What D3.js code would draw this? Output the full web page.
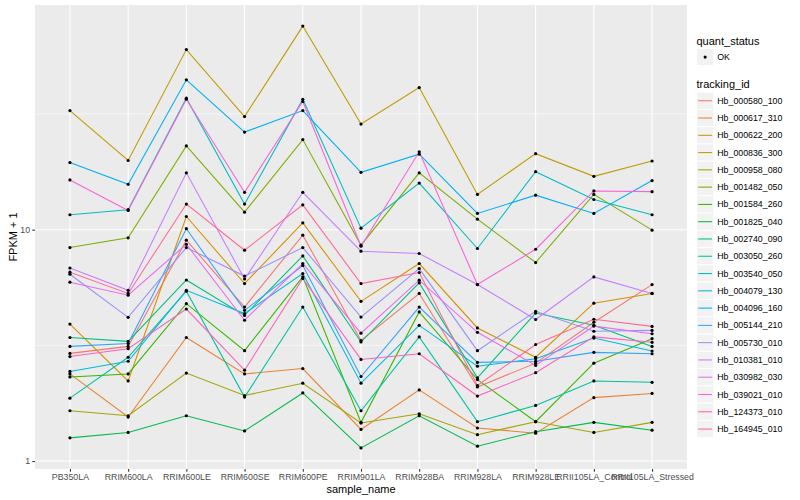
<!DOCTYPE html>
<html>
<head>
<meta charset="utf-8">
<script src="https://cdn.jsdelivr.net/npm/d3@7"></script>
<style>
  body { margin: 0; background: #fff; }
  svg { display: block; }
  text { font-family: "Liberation Sans", Arial, sans-serif; }
</style>
</head>
<body>
<svg id="chart" width="800" height="500"></svg>
<script>
var samples = ['PB350LA', 'RRIM600LA', 'RRIM600LE', 'RRIM600SE', 'RRIM600PE', 'RRIM901LA',
  'RRIM928BA', 'RRIM928LA', 'RRIM928LE', 'RRII105LA_Control', 'RRII105LA_Stressed'];

// FPKM + 1 per sample, one array per gene
var Hb_000580_100 = [2.92, 3.13, 9.01, 4.63, 9.47, 3.32, 5.30, 2.09, 2.65, 3.98, 5.79];
var Hb_000617_310 = [2.38, 1.55, 3.42, 2.38, 2.51, 1.37, 2.03, 1.39, 1.32, 1.88, 1.96];
var Hb_000622_200 = [3.91, 2.22, 11.4, 5.85, 10.7, 4.90, 7.14, 3.76, 2.81, 4.81, 5.30];
var Hb_000836_300 = [32.7, 19.9, 60.0, 30.8, 75.8, 28.6, 41.1, 14.2, 21.3, 17.0, 19.8];
var Hb_000958_080 = [1.65, 1.57, 2.40, 1.92, 2.17, 1.46, 1.60, 1.30, 1.48, 1.33, 1.47];
var Hb_001482_050 = [8.37, 9.22, 23.0, 11.9, 24.5, 8.57, 17.6, 11.1, 7.21, 14.2, 9.95];
var Hb_001584_260 = [2.31, 2.38, 4.79, 3.00, 6.25, 1.47, 4.41, 2.25, 1.48, 2.65, 3.38];
var Hb_001825_040 = [1.26, 1.33, 1.57, 1.35, 1.97, 1.14, 1.57, 1.16, 1.34, 1.47, 1.36];
var Hb_002740_090 = [3.42, 3.29, 6.06, 4.26, 7.70, 3.27, 5.89, 2.29, 4.36, 3.86, 3.13];
var Hb_003050_260 = [1.87, 2.81, 5.42, 1.89, 4.63, 1.65, 3.44, 1.48, 1.74, 2.22, 2.19];
var Hb_003540_050 = [11.6, 12.2, 37.0, 12.9, 36.6, 10.15, 15.9, 8.29, 17.8, 13.5, 11.6];
var Hb_004079_130 = [2.44, 2.70, 5.47, 4.34, 6.46, 2.17, 3.86, 2.57, 2.77, 3.40, 2.99];
var Hb_004096_160 = [19.5, 15.7, 44.4, 26.4, 32.7, 17.7, 21.2, 11.75, 14.1, 11.75, 16.3];
var Hb_005144_210 = [3.13, 3.22, 10.1, 4.48, 7.0, 2.32, 4.63, 2.67, 2.70, 2.95, 2.91];
var Hb_005730_010 = [6.42, 4.18, 8.37, 6.3, 8.37, 4.19, 6.79, 3.00, 4.44, 3.64, 3.67];
var Hb_010381_010 = [6.83, 5.47, 17.6, 6.12, 14.5, 8.07, 7.89, 5.79, 4.09, 6.25, 5.30];
var Hb_030982_030 = [5.93, 5.21, 8.65, 4.06, 7.14, 3.57, 6.05, 3.60, 2.59, 3.83, 3.55];
var Hb_039021_010 = [16.4, 12.1, 36.6, 14.5, 35.8, 8.48, 21.7, 5.79, 8.23, 14.7, 14.6];
var Hb_124373_010 = [2.83, 3.06, 4.54, 2.47, 6.15, 2.75, 2.91, 1.91, 2.41, 3.44, 3.26];
var Hb_164945_010 = [6.55, 5.30, 12.9, 8.15, 12.8, 5.85, 6.53, 2.12, 3.19, 4.10, 3.82];

var trackingIds = ['Hb_000580_100', 'Hb_000617_310', 'Hb_000622_200', 'Hb_000836_300', 'Hb_000958_080',
  'Hb_001482_050', 'Hb_001584_260', 'Hb_001825_040', 'Hb_002740_090', 'Hb_003050_260',
  'Hb_003540_050', 'Hb_004079_130', 'Hb_004096_160', 'Hb_005144_210', 'Hb_005730_010',
  'Hb_010381_010', 'Hb_030982_030', 'Hb_039021_010', 'Hb_124373_010', 'Hb_164945_010'];
var seriesValues = [Hb_000580_100, Hb_000617_310, Hb_000622_200, Hb_000836_300, Hb_000958_080,
  Hb_001482_050, Hb_001584_260, Hb_001825_040, Hb_002740_090, Hb_003050_260,
  Hb_003540_050, Hb_004079_130, Hb_004096_160, Hb_005144_210, Hb_005730_010,
  Hb_010381_010, Hb_030982_030, Hb_039021_010, Hb_124373_010, Hb_164945_010];
var quantStatus = ['OK'];
var yMajor = [1, 10];

// ggplot default hue palette for 20 levels
var hueColors = ['#F8766D', '#EA8331', '#D89000', '#C09B00', '#A3A500', '#7CAE00', '#39B600', '#00BB4E',
  '#00BF7D', '#00C1A3', '#00BFC4', '#00BAE0', '#00B0F6', '#35A2FF', '#9590FF', '#C77CFF',
  '#E76BF3', '#FA62DB', '#FF62BC', '#FF6A98'];

var margin = { top: 5, right: 113, bottom: 31, left: 35 },
  width = 800 - margin.left - margin.right,
  height = 500 - margin.top - margin.bottom;

var series = trackingIds.map(function (id, i) {
  return { id: id, values: seriesValues[i] };
});

var color = d3.scaleOrdinal().domain(trackingIds).range(hueColors);

var x = d3.scalePoint().domain(samples).range([0, width]).padding(0.6);

// log limits expanded by 5% like ggplot
var allVals = d3.merge(seriesValues);
var lo = Math.log10(d3.min(allVals)), hi = Math.log10(d3.max(allVals));
var pad = (hi - lo) * 0.05;
var y = d3.scaleLog().domain([Math.pow(10, lo - pad), Math.pow(10, hi + pad)]).range([height, 0]);

var svg = d3.select('#chart');
var g = svg.append('g').attr('transform', 'translate(' + margin.left + ',' + margin.top + ')');

g.append('rect').attr('width', width).attr('height', height).attr('fill', '#EBEBEB');

// grid
var yMinor = [Math.sqrt(10), 10 * Math.sqrt(10)];
g.selectAll('.minor').data(yMinor).enter().append('line')
  .attr('x1', 0).attr('x2', width)
  .attr('y1', d => y(d)).attr('y2', d => y(d))
  .attr('stroke', '#fff').attr('stroke-width', 0.53);
g.selectAll('.major').data(yMajor).enter().append('line')
  .attr('x1', 0).attr('x2', width)
  .attr('y1', d => y(d)).attr('y2', d => y(d))
  .attr('stroke', '#fff').attr('stroke-width', 1.07);
g.selectAll('.vgrid').data(samples).enter().append('line')
  .attr('x1', d => x(d)).attr('x2', d => x(d))
  .attr('y1', 0).attr('y2', height)
  .attr('stroke', '#fff').attr('stroke-width', 1.07);

// lines
var line = d3.line()
  .x((v, i) => x(samples[i]))
  .y(v => y(v));

g.selectAll('.series').data(series).enter().append('path')
  .attr('d', d => line(d.values))
  .attr('fill', 'none')
  .attr('stroke', d => color(d.id))
  .attr('stroke-width', 1.07);

// points
series.forEach(function (s) {
  g.selectAll(null).data(s.values).enter().append('circle')
    .attr('cx', (v, i) => x(samples[i]))
    .attr('cy', v => y(v))
    .attr('r', 1.6)
    .attr('fill', '#000');
});

// axes
var yAxis = g.append('g').call(d3.axisLeft(y).tickValues(yMajor).tickSize(2.75).tickPadding(2.2).tickFormat(d3.format('d')));
var xAxis = g.append('g').attr('transform', 'translate(0,' + height + ')')
  .call(d3.axisBottom(x).tickSize(2.75).tickPadding(2.2));
[yAxis, xAxis].forEach(function (a) {
  a.select('.domain').remove();
  a.selectAll('.tick line').attr('stroke', '#333333').attr('stroke-width', 1.07);
  a.selectAll('.tick text').attr('fill', '#4D4D4D').style('font-size', '8.8px')
    .style('font-family', '"Liberation Sans", Arial, sans-serif');
});

svg.append('text')
  .attr('x', margin.left + width / 2).attr('y', 493)
  .attr('text-anchor', 'middle').style('font-size', '11px')
  .text('sample_name');

svg.append('text')
  .attr('transform', 'translate(13,' + (margin.top + height / 2) + ') rotate(-90)')
  .attr('text-anchor', 'middle').attr('dominant-baseline', 'central')
  .style('font-size', '11px')
  .text('FPKM + 1');

// legend
var keySize = 17.28;
var lx = 696.5;
var legend = svg.append('g');

legend.append('text').attr('x', lx).attr('y', 44.5).style('font-size', '11px').text('quant_status');
var qk = legend.selectAll('.qkey').data(quantStatus).enter().append('g')
  .attr('transform', (d, i) => 'translate(' + lx + ',' + (48.4 + i * keySize) + ')');
qk.append('rect').attr('width', keySize).attr('height', keySize).attr('fill', '#F2F2F2').attr('stroke', '#fff');
qk.append('circle').attr('cx', keySize / 2).attr('cy', keySize / 2).attr('r', 1.6).attr('fill', '#000');
qk.append('text').attr('x', keySize + 3.5).attr('y', keySize / 2).attr('dy', '0.35em')
  .style('font-size', '8.8px').text(d => d);

legend.append('text').attr('x', lx).attr('y', 88).style('font-size', '11px').text('tracking_id');
var tk = legend.selectAll('.tkey').data(trackingIds).enter().append('g')
  .attr('transform', (d, i) => 'translate(' + lx + ',' + (92.1 + i * keySize) + ')');
tk.append('rect').attr('width', keySize).attr('height', keySize).attr('fill', '#F2F2F2').attr('stroke', '#fff');
tk.append('line')
  .attr('x1', keySize * 0.1).attr('x2', keySize * 0.9)
  .attr('y1', keySize / 2).attr('y2', keySize / 2)
  .attr('stroke', d => color(d)).attr('stroke-width', 1.07);
tk.append('text').attr('x', keySize + 3.5).attr('y', keySize / 2).attr('dy', '0.35em')
  .style('font-size', '8.8px').text(d => d);
</script>
</body>
</html>
